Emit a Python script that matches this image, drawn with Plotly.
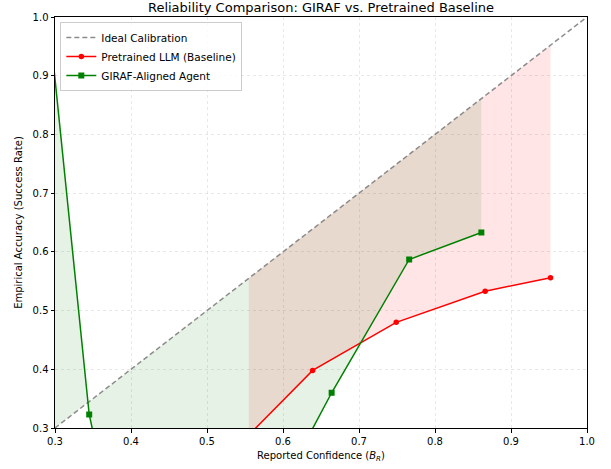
import plotly.graph_objects as go

# Data
ideal_x = [0.0, 1.0]
ideal_y = [0.0, 1.0]

baseline_conf = [0.555, 0.639, 0.749, 0.866, 0.952]
baseline_acc = [0.288, 0.398, 0.480, 0.533, 0.556]

giraf_conf = [0.25, 0.345, 0.434, 0.664, 0.766, 0.861]
giraf_acc = [1.53, 0.323, -0.20, 0.360, 0.587, 0.633]

title_text = "Reliability Comparison: GIRAF vs. Pretrained Baseline"
x_title = "Reported Confidence (<i>B</i><sub><i>R</i></sub>)"
y_title = "Empirical Accuracy (Success Rate)"
tick_vals = [0.3, 0.4, 0.5, 0.6, 0.7, 0.8, 0.9, 1.0]

FONT = "DejaVu Sans"

fig = go.Figure()

# fills between curve and diagonal (polygon)
def band(xs, ys, color):
    return go.Scatter(
        x=list(xs) + list(reversed(xs)),
        y=list(ys) + list(reversed(xs)),
        fill="toself", fillcolor=color, mode="none",
        line=dict(width=0), showlegend=False, hoverinfo="skip",
    )

fig.add_trace(band(giraf_conf, giraf_acc, "rgba(0,128,0,0.1)"))
fig.add_trace(band(baseline_conf, baseline_acc, "rgba(255,0,0,0.1)"))

fig.add_trace(go.Scatter(
    x=ideal_x, y=ideal_y, mode="lines", name="Ideal Calibration",
    line=dict(color="rgba(128,128,128,0.9)", dash="5px,3px", width=1.5),
))
fig.add_trace(go.Scatter(
    x=baseline_conf, y=baseline_acc, mode="lines+markers",
    name="Pretrained LLM (Baseline)",
    line=dict(color="#ff0000", width=1.5),
    marker=dict(symbol="circle", size=5.5, color="#ff0000"),
))
fig.add_trace(go.Scatter(
    x=giraf_conf, y=giraf_acc, mode="lines+markers",
    name="GIRAF-Aligned Agent",
    line=dict(color="#008000", width=1.5),
    marker=dict(symbol="square", size=6, color="#008000"),
))

axis_common = dict(
    showline=True, linecolor="black", linewidth=1, mirror=True,
    ticks="outside", ticklen=3.5, tickwidth=0.8, tickcolor="black",
    showgrid=True, gridcolor="rgba(190,190,190,0.35)", griddash="dot", gridwidth=0.8,
    zeroline=False, tickformat=".1f", tickvals=tick_vals, automargin=False,
    tickfont=dict(family=FONT, size=10, color="black"),
)

fig.update_layout(
    width=611, height=469,
    margin=dict(l=55, r=24, t=17, b=41, autoexpand=False),
    paper_bgcolor="white", plot_bgcolor="white",
    font=dict(family=FONT, color="black"),
    title=dict(text=title_text, font=dict(family=FONT, size=13, color="black"),
               x=321/611, xanchor="center", xref="container",
               y=1 - 7.5/469, yref="container", yanchor="middle"),
    xaxis=dict(range=[0.3, 1.0], title=dict(text=x_title, font=dict(family=FONT, size=10), standoff=6), **axis_common),
    yaxis=dict(range=[0.3, 1.0], title=dict(text=y_title, font=dict(family=FONT, size=10), standoff=8), **axis_common),
    legend=dict(x=0.01, y=0.988, xanchor="left", yanchor="top",
                bgcolor="rgba(255,255,255,0.8)", bordercolor="#cccccc", borderwidth=1,
                font=dict(family=FONT, size=10.5, color="black"),
                itemwidth=30, tracegroupgap=0),
    showlegend=True,
)

fig.write_html("out.html", config={"displayModeBar": False},
               post_script="document.body.style.margin='0';document.body.style.overflow='hidden';")
